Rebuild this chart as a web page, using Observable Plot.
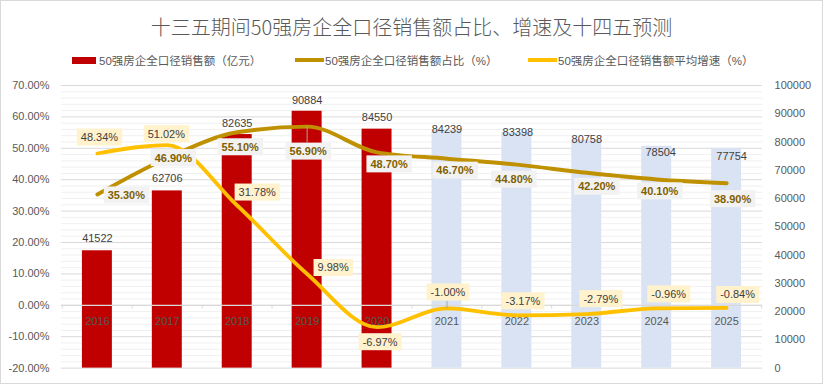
<!DOCTYPE html>
<html>
<head>
<meta charset="utf-8">
<script src="https://cdn.jsdelivr.net/npm/d3@7"></script>
<script src="https://cdn.jsdelivr.net/npm/@observablehq/plot@0.6"></script>
<style>
  html, body { margin: 0; padding: 0; background: #fff; }
  #chart { position: relative; width: 823px; height: 384px; box-sizing: border-box; border: 1px solid #D9D9D9; overflow: hidden;
    font-family: "Liberation Sans", "Noto Sans CJK SC", sans-serif; }
  #title { position: absolute; left: 0; top: 13px; width: 821px; text-align: center; font-size: 20px; line-height: 26px;
    color: #595959; font-family: "Noto Sans CJK SC", sans-serif; font-weight: 300; }
  .leg { position: absolute; top: 51px; height: 16px; display: flex; align-items: center; font-size: 11.5px; color: #595959; white-space: nowrap;
    font-family: "Liberation Sans", "Noto Sans CJK SC", sans-serif; }
  .sw-bar { width: 24px; height: 7px; margin-right: 3px; }
  .sw-line { width: 29px; height: 4px; margin-right: 1px; }
  #plot { position: absolute; left: -1px; top: 71px; }
</style>
</head>
<body>
<div id="chart">
  <div id="title"></div>
  <div id="legend"></div>
  <div id="plot"></div>
</div>
<script>
// ---- data ----
const titleText = "十三五期间50强房企全口径销售额占比、增速及十四五预测";
const years = ["2016", "2017", "2018", "2019", "2020", "2021", "2022", "2023", "2024", "2025"];
const sales = [41522, 62706, 82635, 90884, 84550, 84239, 83398, 80758, 78504, 77754];          // 亿元
const share = [35.30, 46.90, 55.10, 56.90, 48.70, 46.70, 44.80, 42.20, 40.10, 38.90];          // %
const growth = [48.34, 51.02, 31.78, 9.98, -6.97, -1.00, -3.17, -2.79, -0.96, -0.84];           // %
const forecast = [false, false, false, false, false, true, true, true, true, true];
const leftTicks = [-20, -10, 0, 10, 20, 30, 40, 50, 60, 70];
const rightTicks = [0, 10000, 20000, 30000, 40000, 50000, 60000, 70000, 80000, 90000, 100000];
const seriesNames = ["50强房企全口径销售额（亿元）", "50强房企全口径销售额占比（%）", "50强房企全口径销售额平均增速（%）"];

// ---- styling / layout (not data) ----
const colors = { hist: "#C00000", fore: "#DAE3F3", share: "#BF9000", growth: "#FFC000" };
const barLabelOff = [[0,-12],[0,-12],[0,-11],[0,-11],[0,-12],[0,-1],[1,0],[0,0],[4,6],[5,8]];
const shareLabelOff = [[29,1],[6,0],[3,15],[1,25],[12,12],[8,12],[-3,15],[10,14],[3,12],[6,16]];
const growthLabelOff = [[2,-16],[-1,-11],[20,-13],[26,-6],[3,15],[1,-16],[6,-14],[14,-15],[12,-14],[11,-13]];

const W = 823, H = 312, ML = 61, MR = 60, MT = 13, MB = 16;
const step = (W - ML - MR) / years.length;
const rows = years.map((year, i) => ({ year, sales: sales[i], share: share[i], growth: growth[i], forecast: forecast[i] }));

// secondary axis (0..100000) expressed on the primary percent scale (-20..70)
const toPct = v => -20 + v / 100000 * 90;
const fromPct = p => (p + 20) / 90 * 100000;
const minorTicks = d3.range(-20, 70.001, 2).filter(v => Math.abs(v % 10) > 1e-9);

document.getElementById("title").textContent = titleText;
const legend = document.getElementById("legend");
[[71, "sw-bar", colors.hist], [294, "sw-line", colors.share], [527, "sw-line", colors.growth]].forEach(([left, cls, col], i) => {
  const d = document.createElement("div");
  d.className = "leg"; d.style.left = left + "px";
  d.innerHTML = `<span class="${cls}" style="background:${col}"></span><span>${seriesNames[i]}</span>`;
  legend.appendChild(d);
});

const txt = { fontFamily: "Liberation Sans, Noto Sans CJK SC, sans-serif", fontSize: 11 };
const leader = { stroke: "#A6A6A6", strokeWidth: 1 };

const marks = [
  Plot.ruleY(minorTicks, { stroke: "#F0F0F0", strokeWidth: 1 }),
  Plot.ruleY(leftTicks, { stroke: "#D9D9D9", strokeWidth: 1 }),
  Plot.axisY({ anchor: "left", ticks: leftTicks, tickSize: 0, tickPadding: 12, tickFormat: d => d.toFixed(2) + "%", fill: "#595959", ...txt }),
  Plot.axisY({ anchor: "right", ticks: rightTicks.map(toPct), tickSize: 0, tickPadding: 12, tickFormat: d => String(Math.round(fromPct(d))), fill: "#595959", ...txt }),
  Plot.barY(rows.filter(d => !d.forecast), { x: "year", y1: toPct(0), y2: d => toPct(d.sales), fill: colors.hist }),
  Plot.barY(rows.filter(d => d.forecast), { x: "year", y1: toPct(0), y2: d => toPct(d.sales), fill: colors.fore }),
  Plot.ruleY([0], { stroke: "#D9D9D9", strokeWidth: 1.2 }),
  Plot.ruleX(years, { x: d => d, y1: 0, y2: -1.2, dx: -step / 2, stroke: "#D9D9D9" }),
  Plot.ruleX([years[years.length - 1]], { x: d => d, y1: 0, y2: -1.2, dx: step / 2, stroke: "#D9D9D9" }),
  Plot.text(years, { x: d => d, y: 0, dy: 16, text: d => d, fill: "#595959", ...txt }),
  ...rows.map((r, i) => Plot.text([r], { x: "year", y: d => toPct(d.sales), text: d => String(d.sales), dx: barLabelOff[i][0], dy: barLabelOff[i][1], fill: "#404040", ...txt })),
  Plot.line(rows, { x: "year", y: "share", stroke: colors.share, strokeWidth: 4, curve: "monotone-x" }),
  Plot.line(rows, { x: "year", y: "growth", stroke: colors.growth, strokeWidth: 3.8, curve: "monotone-x" }),
  // leader lines of moved labels
  Plot.ruleX([rows[3]], { x: "year", y1: d => d.share, y2: d => d.share - 5.2, ...leader }),
  Plot.ruleX([rows[5]], { x: "year", y1: d => d.growth, y2: d => d.growth + 2.2, ...leader }),
  ...rows.map((r, i) => Plot.text([r], { x: "year", y: "share", text: d => d.share.toFixed(2) + "%", dx: shareLabelOff[i][0], dy: shareLabelOff[i][1],
    fill: "#7F6000", fontWeight: "bold", ariaDescription: "share-label", ...txt })),
  ...rows.map((r, i) => Plot.text([r], { x: "year", y: "growth", text: d => d.growth.toFixed(2) + "%", dx: growthLabelOff[i][0], dy: growthLabelOff[i][1],
    fill: "#404040", ariaDescription: "growth-label", ...txt }))
];

const svg = Plot.plot({
  width: W, height: H,
  marginLeft: ML, marginRight: MR, marginTop: MT, marginBottom: MB,
  style: { background: "transparent", overflow: "visible" },
  x: { domain: years, paddingInner: 0.573, paddingOuter: 0.2865, axis: null },
  y: { domain: [-20, 70] },
  marks
});
document.getElementById("plot").appendChild(svg);

// label backgrounds
const ns = "http://www.w3.org/2000/svg";
[["share-label", "#F2F2F2"], ["growth-label", "#FFF2CC"]].forEach(([key, fill]) => {
  svg.querySelectorAll(`g[aria-description="${key}"] text`).forEach(t => {
    const b = t.getBBox();
    const r = document.createElementNS(ns, "rect");
    r.setAttribute("x", b.x - 4);
    r.setAttribute("y", b.y - 2.5);
    r.setAttribute("width", b.width + 8);
    r.setAttribute("height", b.height + 5);
    r.setAttribute("fill", fill);
    if (t.getAttribute("transform")) r.setAttribute("transform", t.getAttribute("transform"));
    t.parentNode.insertBefore(r, t);
  });
});
</script>
</body>
</html>
